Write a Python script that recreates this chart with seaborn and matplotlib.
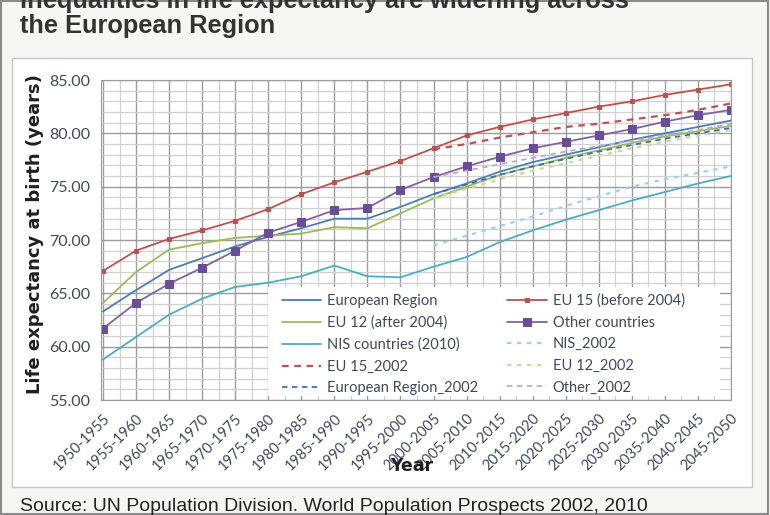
import matplotlib.pyplot as plt
from matplotlib.patches import Rectangle
from matplotlib.ticker import MultipleLocator, FormatStrFormatter
import numpy as np
import seaborn as sns

# five-year periods on the category axis
periods = ["1950-1955", "1955-1960", "1960-1965", "1965-1970", "1970-1975",
           "1975-1980", "1980-1985", "1985-1990", "1990-1995", "1995-2000",
           "2000-2005", "2005-2010", "2010-2015", "2015-2020", "2020-2025",
           "2025-2030", "2030-2035", "2035-2040", "2040-2045", "2045-2050"]
proj_periods = ["2000-2005", "2005-2010", "2010-2015", "2015-2020", "2020-2025",
                "2025-2030", "2030-2035", "2035-2040", "2040-2045", "2045-2050"]

# WPP 2010 estimates / projections
europe = [63.3, 65.3, 67.2, 68.3, 69.4, 70.3, 71.1, 72.0, 72.0, 73.1,
          74.3, 75.3, 76.4, 77.3, 78.0, 78.7, 79.4, 80.0, 80.6, 81.2]
eu15 = [67.1, 69.0, 70.1, 70.9, 71.8, 72.9, 74.3, 75.4, 76.4, 77.4,
        78.6, 79.8, 80.6, 81.3, 81.9, 82.5, 83.0, 83.6, 84.1, 84.6]
eu12 = [64.1, 67.0, 69.1, 69.7, 70.2, 70.4, 70.6, 71.2, 71.1, 72.5,
        73.9, 75.0, 76.1, 76.9, 77.7, 78.4, 79.1, 79.7, 80.2, 80.7]
other = [61.7, 64.1, 65.9, 67.4, 69.0, 70.7, 71.7, 72.8, 73.0, 74.7,
         75.9, 76.9, 77.8, 78.6, 79.2, 79.8, 80.4, 81.1, 81.7, 82.2]
nis = [58.8, 60.9, 63.0, 64.5, 65.6, 66.0, 66.6, 67.6, 66.6, 66.5,
       67.5, 68.4, 69.8, 70.9, 71.9, 72.8, 73.7, 74.5, 75.3, 76.0]

# WPP 2002 projections
nis_2002 = [69.5, 70.4, 71.3, 72.2, 73.2, 74.1, 75.0, 75.7, 76.3, 76.9]
eu15_2002 = [78.5, 79.0, 79.6, 80.1, 80.6, 80.9, 81.3, 81.7, 82.2, 82.8]
eu12_2002 = [73.9, 74.8, 75.7, 76.5, 77.2, 77.9, 78.6, 79.2, 79.8, 80.3]
europe_2002 = [74.3, 75.2, 76.1, 76.9, 77.6, 78.3, 78.9, 79.5, 80.0, 80.5]
other_2002 = [75.9, 76.5, 77.1, 77.7, 78.3, 78.8, 79.3, 79.8, 80.3, 80.9]

W, H = 770, 515
TXT = "#40485a"

sns.set_style("white")
plt.rcParams["font.family"] = ["Lato", "DejaVu Sans"]

fig = plt.figure(figsize=(W / 100, H / 100), dpi=100, facecolor="#f6f6f4")
fig.add_artist(Rectangle((1 / W, 1 / H), (W - 3) / W, (H - 2) / H, transform=fig.transFigure,
                         facecolor="none", edgecolor="#8a8a8a", lw=1.5, zorder=-2))
fig.add_artist(Rectangle((12 / W, 1 - 487 / H), 740 / W, 429 / H, transform=fig.transFigure,
                         facecolor="white", edgecolor="#c4c4c4", lw=1, zorder=-1))

ax = fig.add_axes([101 / W, 1 - 400 / H, 630 / W, 320 / H])

lines = [
    ("European Region", periods, europe, "#4a7ebb", "-", None, 0, 1.3),
    ("EU 15 (before 2004)", periods, eu15, "#c0504d", "-", "s", 3, 1.3),
    ("EU 12 (after 2004)", periods, eu12, "#9bbb59", "-", None, 0, 1.3),
    ("Other countries", periods, other, "#8064a2", "-", "s", 5.5, 1.3),
    ("NIS countries (2010)", periods, nis, "#4bacc6", "-", None, 0, 1.3),
    ("NIS_2002", proj_periods, nis_2002, "#9dd2e4", (0, (2, 2.5)), None, 0, 1.6),
    ("EU 15_2002", proj_periods, eu15_2002, "#c0504d", (0, (3, 2.5)), None, 0, 1.6),
    ("EU 12_2002", proj_periods, eu12_2002, "#c6dc9c", (0, (2, 2.5)), None, 0, 1.6),
    ("European Region_2002", proj_periods, europe_2002, "#3e6fb0", (0, (3, 2.5)), None, 0, 1.3),
    ("Other_2002", proj_periods, other_2002, "#b9a9d3", (0, (3, 2.5)), None, 0, 1.3),
]
for label, xs, ys, col, ls, mk, ms, lw in lines:
    face = "#6a4c9c" if label == "Other countries" else col
    sns.lineplot(x=xs, y=ys, ax=ax, color=col, linestyle=ls, marker=mk, markersize=ms,
                 markeredgecolor=face, markerfacecolor=face,
                 lw=lw, sort=False, label=label, legend=False)

ax.set_xlim(-0.06, 19.0)
ax.set_ylim(55, 85)
ax.yaxis.set_major_locator(MultipleLocator(5))
ax.yaxis.set_minor_locator(MultipleLocator(1))
ax.yaxis.set_major_formatter(FormatStrFormatter("%.2f"))
ax.set_xticks(np.arange(0.5, 19, 1), minor=True)
ax.grid(which="major", color="#9c9c9c", lw=1.0)
ax.grid(which="minor", color="#d0d0d0", lw=0.9)
ax.set_axisbelow(True)
for s in ax.spines.values():
    s.set_color("#9c9c9c")
ax.tick_params(axis="y", which="major", length=5, color="#9c9c9c", labelsize=11.5,
               labelcolor=TXT, pad=3)
ax.tick_params(axis="y", which="minor", length=0)
ax.tick_params(axis="x", which="both", length=5, color="#9c9c9c", labelsize=10.5,
               labelcolor=TXT, pad=3)
plt.setp(ax.get_xticklabels(), rotation=45, ha="right", rotation_mode="anchor")
ax.set_xlabel("")
ax.set_ylabel("")

# white panel behind the legend hides the grid there
ax.add_patch(Rectangle(((268 - 101) / 630, (400 - 396) / 320), 452 / 630, 109 / 320,
                       transform=ax.transAxes, facecolor="white", edgecolor="none", zorder=1.5))

handles, labels = ax.get_legend_handles_labels()
order = [0, 2, 4, 6, 8, 1, 3, 5, 7, 9]
leg = ax.legend([handles[i] for i in order], [labels[i] for i in order], ncol=2,
                loc="upper left", bbox_to_anchor=((276 - 101) / 630, (400 - 288) / 320),
                fontsize=10.5, frameon=False, handlelength=2.7, handletextpad=0.4,
                columnspacing=2.0, labelspacing=0.52, borderpad=0.4, borderaxespad=0)
for t in leg.get_texts():
    t.set_color(TXT)

fig.text(35 / W, 1 - 234 / H, "Life expectancy at birth (years)", rotation=90, ha="center",
         va="center", fontsize=13, fontweight="bold", color="#1f1f1f", family="DejaVu Sans")
fig.text(412 / W, 1 - 466 / H, "Year", ha="center", va="center", fontsize=12.5,
         fontweight="bold", color="#1f1f1f", family="DejaVu Sans")

fig.text(20 / W, 1 - 8 / H, "Inequalities in life expectancy are widening across",
         fontfamily="Liberation Sans", fontweight="bold", fontsize=18.3, color="#333333",
         va="baseline")
fig.text(20 / W, 1 - 33 / H, "the European Region", fontfamily="Liberation Sans",
         fontweight="bold", fontsize=18.3, color="#333333", va="baseline")
fig.text(20 / W, 1 - 511 / H, "Source: UN Population Division. World Population Prospects 2002, 2010",
         fontfamily="Liberation Sans", fontsize=14, color="#222222", va="baseline")

fig.savefig("out.png", dpi=100, facecolor=fig.get_facecolor())
